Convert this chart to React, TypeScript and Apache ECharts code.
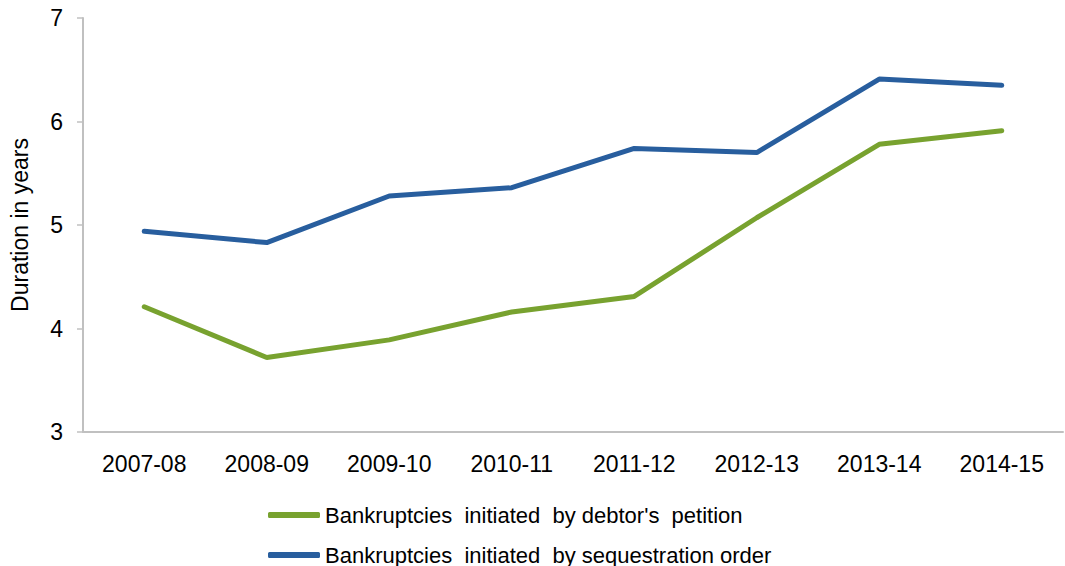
import React, { useEffect, useRef } from "react";
import * as echarts from "echarts";

const categories = ["2007-08", "2008-09", "2009-10", "2010-11", "2011-12", "2012-13", "2013-14", "2014-15"];
const debtorPetition = [4.21, 3.72, 3.89, 4.16, 4.31, 5.07, 5.78, 5.91];
const sequestrationOrder = [4.94, 4.83, 5.28, 5.36, 5.74, 5.70, 6.41, 6.35];
const seriesNames = ["Bankruptcies  initiated  by debtor's  petition", "Bankruptcies  initiated  by sequestration order"];

export default function App() {
  const ref = useRef<HTMLDivElement>(null);
  useEffect(() => {
    if (!ref.current) return;
    const chart = echarts.init(ref.current, undefined, { renderer: "svg" });
    const font = "'Liberation Sans', Arial, sans-serif";
    const legendBase = {
      left: 263,
      itemWidth: 52,
      itemHeight: 6,
      icon: "roundRect",
      textStyle: { fontFamily: font, fontSize: 22, color: "#000" },
    };
    chart.setOption({
      animation: false,
      grid: { left: 83, right: 2, top: 18, bottom: 134 },
      legend: [
        { ...legendBase, top: 499, data: [seriesNames[0]] },
        { ...legendBase, top: 539, data: [seriesNames[1]] },
      ],
      xAxis: {
        type: "category",
        data: categories,
        boundaryGap: true,
        axisLine: { lineStyle: { color: "#c0c0c0", width: 2 } },
        axisTick: { inside: true, length: 7, lineStyle: { color: "#c0c0c0", width: 1.5 } },
        axisLabel: { fontFamily: font, fontSize: 23, color: "#000", margin: 20 },
      },
      yAxis: {
        type: "value",
        min: 3,
        max: 7,
        interval: 1,
        name: "Duration in years",
        nameLocation: "middle",
        nameGap: 52,
        nameTextStyle: { fontFamily: font, fontSize: 23, color: "#000" },
        splitLine: { show: false },
        axisLine: { show: true, lineStyle: { color: "#c0c0c0", width: 2 } },
        axisTick: { show: true, length: 6, lineStyle: { color: "#c0c0c0", width: 1.5 } },
        axisLabel: { fontFamily: font, fontSize: 23, color: "#000", margin: 20 },
      },
      series: [
        {
          name: seriesNames[0],
          type: "line",
          data: debtorPetition,
          symbol: "none",
          lineStyle: { color: "#78a22f", width: 5, cap: "round" },
          itemStyle: { color: "#78a22f" },
        },
        {
          name: seriesNames[1],
          type: "line",
          data: sequestrationOrder,
          symbol: "none",
          lineStyle: { color: "#285e9e", width: 5, cap: "round" },
          itemStyle: { color: "#285e9e" },
        },
      ],
    });
    return () => chart.dispose();
  }, []);
  return <div ref={ref} style={{ width: 1065, height: 566, position: "absolute", left: 0, top: 0 }} />;
}
